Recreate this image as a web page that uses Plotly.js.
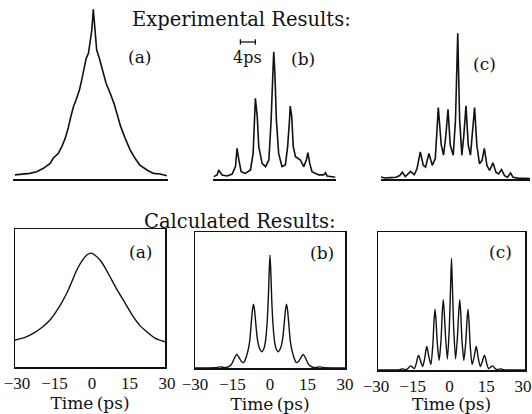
<!DOCTYPE html>
<html>
<head>
<meta charset="utf-8">
<script src="https://cdn.plot.ly/plotly-3.0.1.min.js"></script>
<style>html,body{margin:0;padding:0;background:#fff;}#chart{width:532px;height:414px;}</style>
</head>
<body>
<div id="chart"></div>
<script>
// ---------- Experimental traces (time in ps, normalized intensity) ----------
const expA_t = [-20.9,-18.6,-16.9,-15.1,-13.3,-11.5,-10.7,-9.3,-8.4,-7.5,-6.7,-6.0,-5.3,-4.6,-3.7,-3.1,-2.5,-1.9,-1.3,-0.9,-0.4,0,0.4,0.9,1.6,2.5,3.4,4.5,5.5,6.4,7.3,8.5,9.8,11.1,12.4,14.3,16.0,17.8,19.6];
const expA_v = [0.024,0.029,0.033,0.043,0.063,0.092,0.122,0.151,0.19,0.239,0.298,0.366,0.425,0.465,0.524,0.582,0.651,0.71,0.739,0.798,0.876,0.998,0.876,0.759,0.71,0.641,0.563,0.504,0.445,0.376,0.308,0.239,0.171,0.122,0.082,0.053,0.033,0.029,0.019];

const expB_t = [-16.0,-15.1,-14.7,-13.8,-12.4,-11.1,-10.2,-9.8,-9.3,-8.7,-7.6,-6.2,-5.5,-5.2,-4.9,-4.4,-4.0,-3.1,-2.2,-1.3,-0.7,-0.2,0,0.3,0.7,1.3,2.2,3.1,3.7,4.2,4.4,4.8,5.2,5.8,6.4,7.1,8.0,8.7,9.1,9.6,10.2,11.1,12.0,13.3,13.8,14.2,15.6,16.4];
const expB_v = [0.014,0.024,0.053,0.024,0.018,0.029,0.073,0.18,0.112,0.043,0.033,0.053,0.151,0.347,0.475,0.367,0.19,0.092,0.073,0.112,0.347,0.641,0.749,0.622,0.347,0.151,0.073,0.082,0.19,0.347,0.429,0.367,0.19,0.131,0.122,0.112,0.073,0.112,0.155,0.092,0.043,0.033,0.024,0.024,0.037,0.018,0.014,0.01];

const expC_t = [-20.5,-19.5,-18.0,-16.5,-15.5,-14.8,-14.0,-12.6,-11.6,-10.9,-10.0,-9.2,-8.6,-7.7,-6.8,-6.0,-5.2,-4.4,-3.8,-3.2,-2.6,-2.0,-1.2,-0.6,0,0.5,1.1,1.6,2.2,2.8,3.4,3.9,4.5,5.1,5.8,6.5,7.1,7.8,8.5,9.4,10.2,10.9,11.7,12.5,13.3,14.1,14.8,16.0,17.5,19.3];
const expC_v = [0.012,0.006,0.008,0.01,0.02,0.04,0.015,0.045,0.025,0.06,0.16,0.08,0.07,0.15,0.08,0.12,0.42,0.2,0.14,0.25,0.41,0.2,0.14,0.35,0.857,0.35,0.14,0.25,0.43,0.2,0.14,0.25,0.42,0.2,0.09,0.11,0.18,0.08,0.05,0.095,0.04,0.03,0.055,0.02,0.01,0.035,0.01,0.005,0.003,0.002];

// ---------- Calculated traces ----------
const calcA_t = [-30,-26,-22.7,-19,-16,-12.5,-9.3,-7,-5.3,-3,-1,0.5,2,4,6,8,10.5,13.3,17.3,20,22.7,26,30];
const calcA_v = [0.196,0.215,0.244,0.29,0.34,0.43,0.534,0.63,0.703,0.775,0.815,0.825,0.81,0.775,0.72,0.654,0.57,0.486,0.365,0.3,0.256,0.21,0.183];

const calcB_t = [-30,-22,-20,-18,-16.5,-15.3,-14.3,-13.3,-12.3,-11.5,-10.5,-9.9,-8.9,-8.1,-7.5,-7.0,-6.6,-6.2,-5.7,-5.1,-4.3,-3.3,-2.5,-1.8,-1.2,-0.7,-0.3,0,0.3,0.7,1.2,1.8,2.5,3.3,4.3,5.1,5.7,6.2,6.6,7.0,7.5,8.1,8.9,9.9,10.5,11.5,12.3,13.3,14.3,15.3,16.5,18,20,22,30];
const calcB_v = [0,0.002,0.008,0.003,0.01,0.03,0.07,0.10,0.075,0.05,0.04,0.06,0.12,0.2,0.33,0.43,0.47,0.43,0.33,0.22,0.15,0.12,0.14,0.2,0.32,0.5,0.72,0.83,0.72,0.5,0.32,0.2,0.14,0.12,0.15,0.22,0.33,0.43,0.47,0.43,0.33,0.2,0.12,0.06,0.04,0.05,0.075,0.10,0.07,0.03,0.01,0.003,0.008,0.002,0];

const calcC_t = [-30,-23,-21.0,-20.2,-19.4,-18.5,-17.7,-16.8,-15.9,-15.12,-14.34,-13.84,-13.44,-13.04,-12.54,-11.76,-10.98,-10.48,-10.08,-9.68,-9.18,-8.4,-7.62,-7.12,-6.72,-6.32,-5.82,-5.04,-4.26,-3.76,-3.36,-2.96,-2.46,-1.68,-0.9,-0.35,0,0.35,0.9,1.68,2.46,2.96,3.36,3.76,4.26,5.04,5.82,6.32,6.72,7.12,7.62,8.4,9.18,9.68,10.08,10.48,10.98,11.76,12.54,13.04,13.44,13.84,14.34,15.12,15.9,16.8,17.7,18.5,19.4,20.2,21.0,23,30];
const calcC_v = [0,0,0.003,0.008,0.006,0.003,0.012,0.03,0.02,0.01,0.05,0.09,0.108,0.09,0.06,0.025,0.08,0.14,0.17,0.14,0.09,0.04,0.18,0.36,0.44,0.36,0.2,0.07,0.22,0.42,0.51,0.42,0.25,0.08,0.3,0.62,0.81,0.62,0.3,0.08,0.25,0.42,0.51,0.42,0.22,0.07,0.2,0.36,0.44,0.36,0.18,0.04,0.09,0.14,0.17,0.14,0.08,0.025,0.06,0.09,0.108,0.09,0.05,0.01,0.02,0.03,0.012,0.003,0.006,0.008,0.003,0,0];

// ---------- Tick labels / text ----------
const tickVals = [-30,-15,0,15,30];
const tickText = ['\u221230','\u221215','0','15','30'];
const panelLabels = ['(a)','(b)','(c)'];
const scaleBarStart = -8.9, scaleBarLen = 4; // ps, experimental (b)

const FONT = 'DejaVu Serif, Liberation Serif, serif';
const TFONT = 'Liberation Serif, DejaVu Serif, serif';
const W = 532, H = 414;
const px = v => v / W, py = v => 1 - v / H;

function tr(t, v, xa, ya, smooth) {
  return {x: t, y: v, xaxis: xa, yaxis: ya, type: 'scatter', mode: 'lines',
    line: {color: '#111', width: smooth ? 1.4 : 1.6, shape: smooth ? 'spline' : 'linear', smoothing: 0.6},
    hoverinfo: 'skip', showlegend: false, cliponaxis: false};
}

const data = [
  tr(expA_t, expA_v, 'x', 'y', false),
  tr(expB_t, expB_v, 'x2', 'y2', false),
  tr(expC_t, expC_v, 'x3', 'y3', false),
  tr(calcA_t, calcA_v, 'x4', 'y4', true),
  tr(calcB_t, calcB_v, 'x5', 'y5', true),
  tr(calcC_t, calcC_v, 'x6', 'y6', true)
];

function topX(dom, rng) {
  return {domain: dom, range: rng, showline: true, linecolor: '#111', linewidth: 1.5,
    showticklabels: false, ticks: '', showgrid: false, zeroline: false, fixedrange: true};
}
function topY(anchor) {
  return {domain: [py(179), py(9)], range: [0, 1], anchor: anchor, showline: false,
    showticklabels: false, ticks: '', showgrid: false, zeroline: false};
}
function botX(dom, anchor, shift) {
  return {domain: dom, range: [-30, 30], anchor: anchor, showline: true, mirror: true,
    linecolor: '#111', linewidth: 1.5, tickvals: tickVals, ticktext: tickText, ticks: '',
    ticklabeloverflow: 'allow', ticklabelshift: shift,
    tickfont: {family: TFONT, size: 17, color: '#111'}, showgrid: false, zeroline: false,
    title: {text: 'Time\u2009(ps)', font: {family: FONT, size: 17, color: '#111'}, standoff: 3}};
}
function botY(dom, anchor) {
  return {domain: dom, range: [0, 1], anchor: anchor, showline: true, mirror: true,
    linecolor: '#111', linewidth: 1.5, showticklabels: false, ticks: '',
    showgrid: false, zeroline: false};
}

function ann(text, x, y, size) {
  return {text: text, xref: 'paper', yref: 'paper', x: px(x), y: py(y),
    xanchor: 'center', yanchor: 'middle', showarrow: false,
    font: {family: FONT, size: size, color: '#111'}};
}

const layout = {
  width: W, height: H,
  margin: {l: 0, r: 0, t: 0, b: 0},
  paper_bgcolor: '#fff', plot_bgcolor: 'rgba(0,0,0,0)',
  showlegend: false,
  xaxis: Object.assign(topX([px(13), px(168)], [-21.4, 19.9]), {anchor: 'y'}),
  yaxis: topY('x'),
  xaxis2: Object.assign(topX([px(213), px(336)], [-16.2, 16.6]), {anchor: 'y2'}),
  yaxis2: topY('x2'),
  xaxis3: Object.assign(topX([px(381), px(530)], [-20.5, 19.3]), {anchor: 'y3'}),
  yaxis3: topY('x3'),
  xaxis4: botX([px(15), px(165)], 'y4', 2),
  yaxis4: botY([py(367), py(229)], 'x4'),
  xaxis5: botX([px(195), px(345)], 'y5', 0),
  yaxis5: botY([py(368), py(232)], 'x5'),
  xaxis6: botX([px(378), px(525)], 'y6', -2),
  yaxis6: botY([py(370), py(232)], 'x6'),
  shapes: [
    {type: 'line', xref: 'x2', yref: 'y2', x0: scaleBarStart, x1: scaleBarStart + scaleBarLen, y0: 0.806, y1: 0.806, line: {color: '#111', width: 1.3}},
    {type: 'line', xref: 'x2', yref: 'y2', x0: scaleBarStart, x1: scaleBarStart, y0: 0.79, y1: 0.822, line: {color: '#111', width: 1.3}},
    {type: 'line', xref: 'x2', yref: 'y2', x0: scaleBarStart + scaleBarLen, x1: scaleBarStart + scaleBarLen, y0: 0.79, y1: 0.822, line: {color: '#111', width: 1.3}}
  ],
  annotations: [
    ann('Experimental Results:', 241, 20, 19.5),
    ann('Calculated Results:', 240, 221, 19.5),
    ann(panelLabels[0], 139, 57, 17),
    ann(panelLabels[1], 303, 59, 17),
    ann(panelLabels[2], 484, 64, 17),
    ann(panelLabels[0], 140, 252, 17),
    ann(panelLabels[1], 322, 253, 17),
    ann(panelLabels[2], 500, 252, 17),
    ann('4ps', 247, 58, 16)
  ]
};

Plotly.newPlot('chart', data, layout, {staticPlot: true, displayModeBar: false});
</script>
</body>
</html>
